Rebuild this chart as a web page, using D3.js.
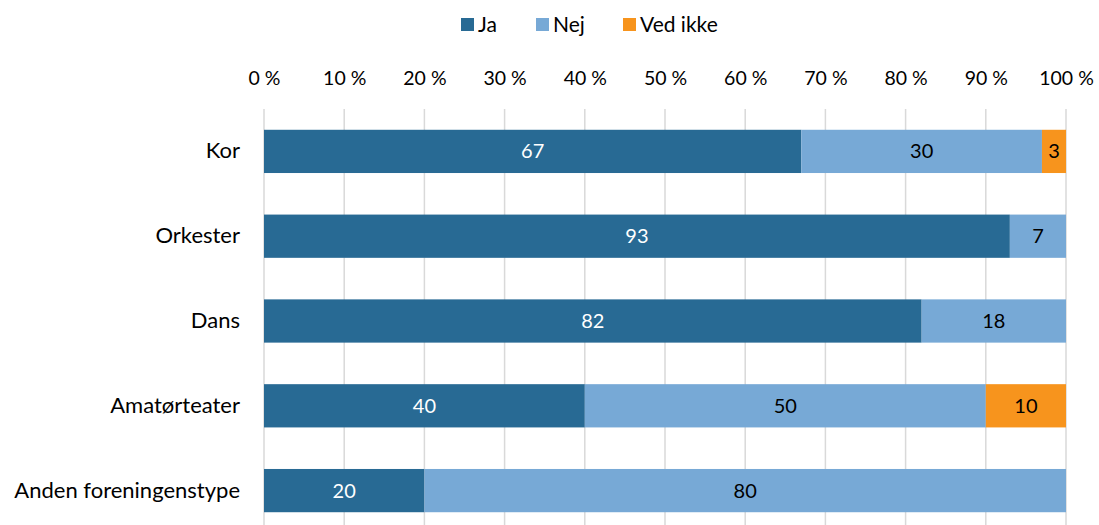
<!DOCTYPE html>
<html><head><meta charset="utf-8">
<script src="https://cdn.jsdelivr.net/npm/d3@7"></script>
<style>
body{margin:0;background:#fff;}
svg text{font-family:Lato,"Open Sans",sans-serif;}
</style></head>
<body>
<svg id="c" width="1099" height="525"></svg>
<script>
const categories = ["Kor","Orkester","Dans","Amatørteater","Anden foreningenstype"];
const seriesNames = ["Ja","Nej","Ved ikke"];
const ja = [67,93,82,40,20];
const nej = [30,7,18,50,80];
const vedIkke = [3,0,0,10,0];
const tickValues = [0,10,20,30,40,50,60,70,80,90,100];
const colors = ["#286a94","#77a9d6","#f7941d"];
const labelColors = ["#ffffff","#000000","#000000"];

const svg = d3.select("#c");
const x = d3.scaleLinear().domain([0,100]).range([264,1066]);
const y = d3.scaleBand().domain(categories).range([109,533]).paddingInner(0.49).paddingOuter(0.245);

// gridlines
svg.append("g").selectAll("line").data(tickValues).join("line")
  .attr("x1",d=>x(d)).attr("x2",d=>x(d)).attr("y1",109).attr("y2",525)
  .attr("stroke","#d9d9d9").attr("stroke-width",1.5);

// top axis
const axis = svg.append("g").attr("transform","translate(0,85)")
  .call(d3.axisTop(x).tickValues(tickValues).tickFormat(d=>d+" %").tickSize(0).tickPadding(0));
axis.select(".domain").remove();
axis.selectAll("text").attr("font-size",19.5).attr("fill","#000").attr("font-family","Lato");

// category axis
const yAxis = svg.append("g").attr("transform","translate(240,0)")
  .call(d3.axisLeft(y).tickSize(0).tickPadding(0));
yAxis.select(".domain").remove();
yAxis.selectAll("text").attr("font-size",22).attr("fill","#000").attr("font-family","Lato");

const data = categories.map((c,i)=>({cat:c, vals:[ja[i],nej[i],vedIkke[i]]}));
const stackData = data.map(d=>({cat:d.cat,"Ja":d.vals[0],"Nej":d.vals[1],"Ved ikke":d.vals[2]}));
const stack = d3.stack().keys(seriesNames)(stackData);

stack.forEach((s,si)=>{
  const g = svg.append("g");
  g.selectAll("rect").data(s.filter(d=>d[1]-d[0]>0)).join("rect")
    .attr("x",d=>x(d[0])).attr("width",d=>x(d[1])-x(d[0]))
    .attr("y",d=>y(d.data.cat)).attr("height",y.bandwidth())
    .attr("fill",colors[si]);
  g.selectAll("text").data(s.filter(d=>d[1]-d[0]>0)).join("text")
    .attr("x",d=>(x(d[0])+x(d[1]))/2).attr("y",d=>y(d.data.cat)+y.bandwidth()/2)
    .attr("dy","0.35em").attr("text-anchor","middle")
    .attr("font-size",20).attr("fill",labelColors[si])
    .text(d=>d[1]-d[0]);
});

// legend
const legX = [461,536,623];
const leg = svg.append("g");
seriesNames.forEach((n,i)=>{
  leg.append("rect").attr("x",legX[i]).attr("y",18).attr("width",13).attr("height",13).attr("fill",colors[i]);
  leg.append("text").attr("x",legX[i]+17).attr("y",24.5).attr("dy","0.35em")
    .attr("font-size",21).attr("fill","#000").text(n);
});
</script>
</body></html>
